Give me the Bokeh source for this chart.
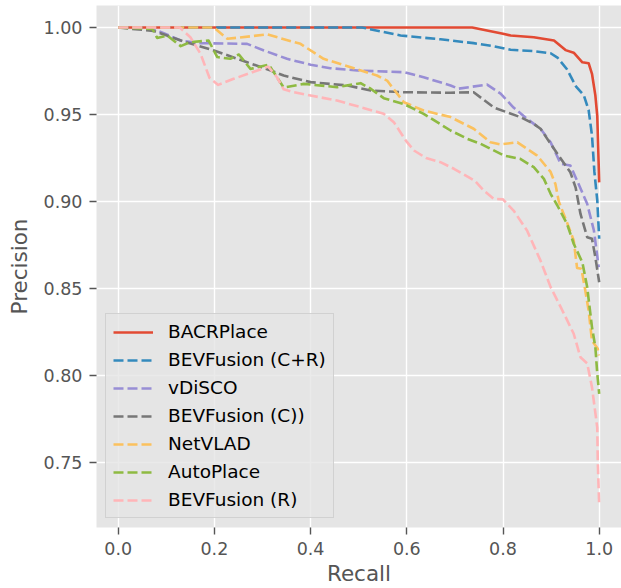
from bokeh.plotting import figure
from bokeh.models import Range1d, FixedTicker, Legend, LegendItem, PrintfTickFormatter
from bokeh.embed import file_html
from bokeh.resources import INLINE

# ---- data ----
names = ["BACRPlace", "BEVFusion (C+R)", "vDiSCO", "BEVFusion (C))", "NetVLAD", "AutoPlace", "BEVFusion (R)"]
colors = ["#E24A33", "#348ABD", "#988ED5", "#777777", "#FBC15E", "#8EBA42", "#FFB5B8"]

bacr_x = [0, 0.736, 0.80, 0.816, 0.864, 0.906, 0.930, 0.947, 0.965, 0.978, 0.985, 0.992, 0.996, 1.0]
bacr_y = [1.0, 1.0, 0.9964, 0.9954, 0.9944, 0.9925, 0.987, 0.9855, 0.980, 0.9795, 0.9734, 0.961, 0.949, 0.911]

bevcr_x = [0, 0.507, 0.587, 0.670, 0.739, 0.781, 0.816, 0.864, 0.899, 0.914, 0.933, 0.952, 0.968, 0.978, 0.985, 0.990, 0.996, 1.0]
bevcr_y = [1.0, 1.0, 0.9954, 0.9932, 0.991, 0.9892, 0.9872, 0.9864, 0.9852, 0.9825, 0.976, 0.966, 0.961, 0.9525, 0.938, 0.917, 0.9006, 0.8786]

vdisco_x = [0, 0.067, 0.13, 0.171, 0.268, 0.303, 0.351, 0.40, 0.441, 0.497, 0.594, 0.635, 0.691, 0.707, 0.767, 0.795, 0.822, 0.850, 0.878, 0.899, 0.92, 0.94, 0.954, 0.975, 0.989, 0.999]
vdisco_y = [1.0, 1.0, 0.9925, 0.991, 0.9906, 0.9868, 0.982, 0.9786, 0.9766, 0.9753, 0.9743, 0.9714, 0.9667, 0.9648, 0.9672, 0.962, 0.954, 0.9475, 0.9418, 0.934, 0.9217, 0.9207, 0.912, 0.8987, 0.8833, 0.8622]

bevc_x = [0, 0.074, 0.136, 0.199, 0.268, 0.317, 0.344, 0.40, 0.476, 0.525, 0.594, 0.691, 0.739, 0.781, 0.836, 0.864, 0.878, 0.913, 0.94, 0.951, 0.961, 0.975, 0.985, 0.992, 1.0]
bevc_y = [1.0, 0.998, 0.992, 0.9868, 0.980, 0.9753, 0.9724, 0.9686, 0.9667, 0.9638, 0.9628, 0.9625, 0.9628, 0.954, 0.9485, 0.9446, 0.9418, 0.9274, 0.9168, 0.908, 0.893, 0.8795, 0.8786, 0.868, 0.8536]

netvlad_x = [0, 0.199, 0.227, 0.31, 0.379, 0.427, 0.49, 0.538, 0.559, 0.594, 0.635, 0.691, 0.739, 0.774, 0.795, 0.83, 0.871, 0.899, 0.909, 0.916, 0.933, 0.947, 0.954, 0.963, 0.971, 0.978, 0.985, 0.997, 0.999]
netvlad_y = [1.0, 1.0, 0.9935, 0.996, 0.9906, 0.982, 0.9766, 0.9724, 0.9695, 0.957, 0.9523, 0.9485, 0.9418, 0.934, 0.9328, 0.934, 0.9264, 0.917, 0.910, 0.9, 0.888, 0.8776, 0.8618, 0.8613, 0.849, 0.8374, 0.820, 0.8153, 0.8115]

autoplace_x = [0, 0.071, 0.081, 0.102, 0.130, 0.150, 0.188, 0.206, 0.233, 0.251, 0.275, 0.313, 0.344, 0.386, 0.455, 0.504, 0.525, 0.552, 0.594, 0.635, 0.691, 0.726, 0.753, 0.802, 0.836, 0.864, 0.885, 0.899, 0.913, 0.933, 0.947, 0.965, 0.975, 0.985, 0.992, 0.996, 1.0]
autoplace_y = [1.0, 0.9992, 0.994, 0.9954, 0.9893, 0.9916, 0.9925, 0.983, 0.982, 0.9845, 0.9762, 0.9787, 0.9655, 0.9676, 0.9657, 0.968, 0.9648, 0.9594, 0.956, 0.9504, 0.9408, 0.936, 0.9332, 0.9264, 0.9245, 0.9197, 0.913, 0.9044, 0.8977, 0.8872, 0.8757, 0.865, 0.8508, 0.8278, 0.8163, 0.801, 0.7895]

bevr_x = [0, 0.128, 0.15, 0.171, 0.19, 0.208, 0.24, 0.312, 0.33, 0.344, 0.365, 0.40, 0.455, 0.504, 0.552, 0.573, 0.598, 0.615, 0.640, 0.67, 0.698, 0.741, 0.760, 0.781, 0.80, 0.822, 0.85, 0.878, 0.899, 0.92, 0.947, 0.961, 0.975, 0.985, 0.996, 0.997, 1.0]
bevr_y = [1.0, 1.0, 0.9944, 0.985, 0.971, 0.967, 0.9705, 0.9775, 0.9714, 0.9645, 0.9628, 0.9609, 0.958, 0.9542, 0.9504, 0.9456, 0.935, 0.9293, 0.925, 0.9226, 0.9188, 0.912, 0.9063, 0.9015, 0.9012, 0.8948, 0.8833, 0.866, 0.8508, 0.8393, 0.824, 0.8105, 0.807, 0.7933, 0.770, 0.751, 0.7253]

series_x = [bacr_x, bevcr_x, vdisco_x, bevc_x, netvlad_x, autoplace_x, bevr_x]
series_y = [bacr_y, bevcr_y, vdisco_y, bevc_y, netvlad_y, autoplace_y, bevr_y]
dashes = ["solid", "10 4", "10 4", "10 4", "10 4", "10 4", "10 4"]

x_ticks = [0.0, 0.2, 0.4, 0.6, 0.8, 1.0]
y_ticks = [0.75, 0.80, 0.85, 0.90, 0.95, 1.00]

FONT = "DejaVu Sans"

p = figure(width=621, height=588, output_backend="svg", toolbar_location=None,
           x_range=Range1d(-0.04511, 1.04636), y_range=Range1d(0.71264, 1.01264),
           min_border_left=96, min_border_right=0, min_border_top=5, min_border_bottom=61)

p.background_fill_color = "#E5E5E5"
p.border_fill_color = "white"
p.outline_line_color = None

for ax, ticks, fmt in ((p.xaxis, x_ticks, "%.1f"), (p.yaxis, y_ticks, "%.2f")):
    ax.ticker = FixedTicker(ticks=ticks)
    ax.formatter = PrintfTickFormatter(format=fmt)
    ax.axis_line_color = None
    ax.major_tick_line_color = "#555555"
    ax.major_tick_line_width = 1.4
    ax.major_tick_out = 7
    ax.major_tick_in = 0
    ax.minor_tick_line_color = None
    ax.major_label_text_font = FONT
    ax.major_label_text_font_size = "17.5px"
    ax.major_label_text_color = "#555555"
    ax.major_label_standoff = 7
    ax.axis_label_text_font = FONT
    ax.axis_label_text_font_size = "21.5px"
    ax.axis_label_text_font_style = "normal"
    ax.axis_label_text_color = "#555555"

p.yaxis.axis_label = "Precision"
p.yaxis.axis_label_standoff = 9
p.xaxis.axis_label = "Recall"
p.xaxis.axis_label_standoff = 3

p.xgrid.ticker = FixedTicker(ticks=x_ticks)
p.ygrid.ticker = FixedTicker(ticks=y_ticks)
p.grid.grid_line_color = "white"
p.grid.grid_line_width = 1.4

items = []
for name, c, d, xs, ys in zip(names, colors, dashes, series_x, series_y):
    r = p.line(xs, ys, line_color=c, line_width=2.6, line_dash=d, line_cap="butt", line_join="round")
    items.append(LegendItem(label=name, renderers=[r]))

legend = Legend(items=items, location="bottom_left", margin=9, padding=7, spacing=7,
                glyph_width=40, glyph_height=20, label_height=20, label_standoff=15,
                label_text_font=FONT, label_text_font_size="18.5px", label_text_color="#000000",
                background_fill_color="#E5E5E5", background_fill_alpha=0.8,
                border_line_color="#CCCCCC", border_line_alpha=0.8, border_line_width=1.2)
p.add_layout(legend, "center")

open("out.html", "w").write(file_html(p, INLINE))
